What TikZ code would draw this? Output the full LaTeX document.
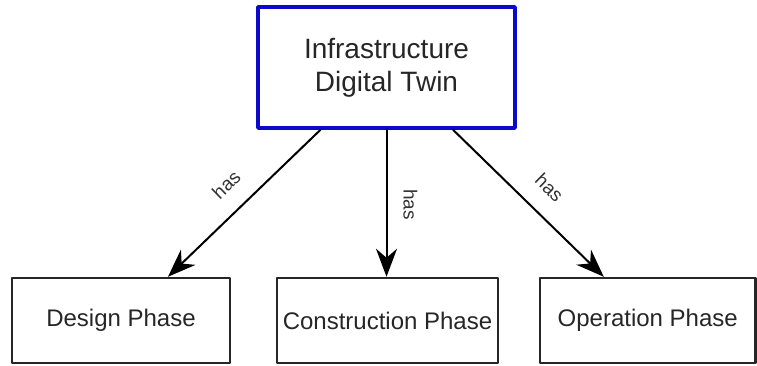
\documentclass[tikz,border=0pt]{standalone}
\usepackage{fontspec}
\setmainfont{Liberation Sans}
\usetikzlibrary{arrows.meta}
\definecolor{twinblue}{RGB}{10,10,200}

\begin{document}
\begin{tikzpicture}[line cap=round,line join=round,>={Stealth[length=28pt,width=21pt,inset=9pt]},x=1pt,y=-1pt]
\useasboundingbox (0,0) rectangle (757,365);
\tikzset{
  twinbox/.style={draw=twinblue,line width=3.5pt,minimum width=257pt,minimum height=121pt,inner sep=0pt,align=center,text=black!85,font=\fontsize{28}{33}\selectfont},
  phasebox/.style={draw=black!85,line width=2.5pt,minimum height=85pt,inner sep=0pt,text=black!85,font=\fontsize{24}{28}\selectfont},
  hasarrow/.style={->,line width=2pt,black},
  haslabel/.style={text=black!80,font=\fontsize{19}{21}\selectfont,inner sep=0pt}
}
% top node
\node[twinbox] (twin) at (386.5,67.5) {Infrastructure\\Digital Twin};
% phases
\node[phasebox,minimum width=218pt] (design) at (121,320.5) {Design Phase};
\node[phasebox,minimum width=221pt] (construction) at (387.5,320.5) {Construction Phase};
\node[phasebox,minimum width=215.5pt] (operation) at (647.75,320.5) {Operation Phase};
% has-links
\draw[hasarrow] ([xshift=-66pt]twin.south) -- ([xshift=47pt]design.north)
  node[haslabel,pos=0.5,sloped,above=18pt] (hasdesign) {has};
\draw[hasarrow] (twin.south) -- (twin.south |- construction.north)
  node[haslabel,pos=0.51,xshift=24pt,rotate=-90] (hasconstruction) {has};
\draw[hasarrow] ([xshift=66.5pt]twin.south) -- ([xshift=-44pt]operation.north)
  node[haslabel,pos=0.52,sloped,above=18pt] (hasoperation) {has};
\end{tikzpicture}
\end{document}
